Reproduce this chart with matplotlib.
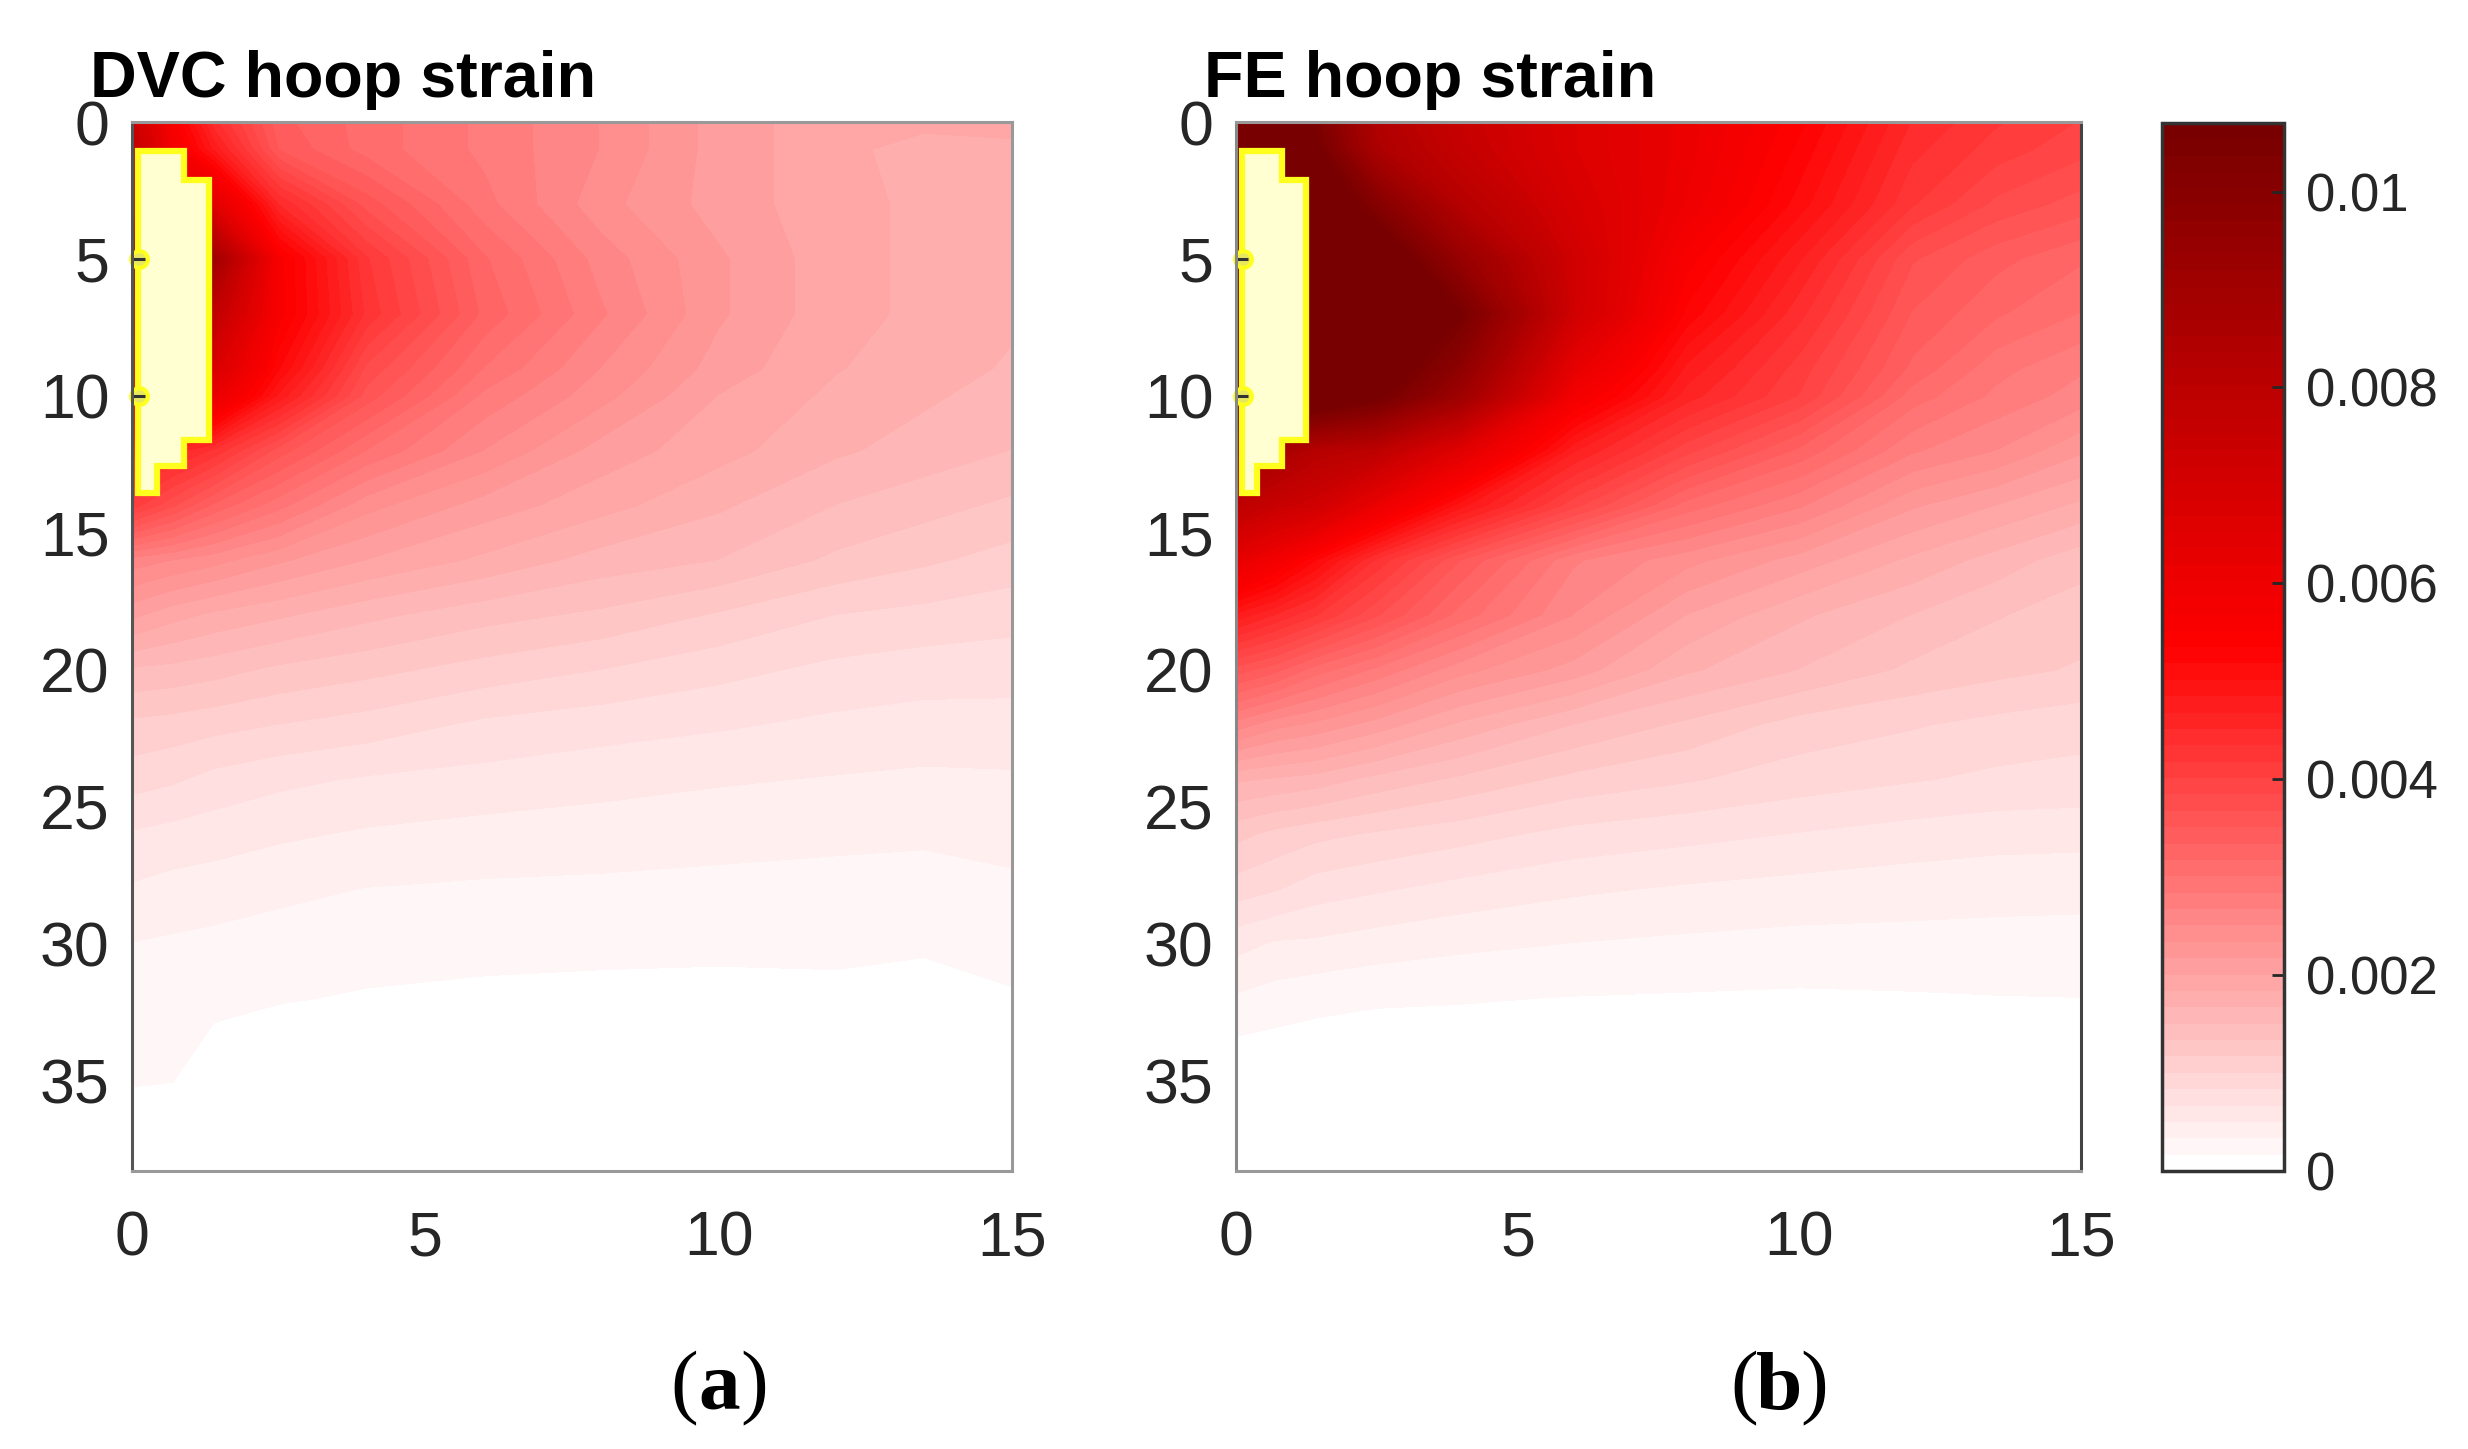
import numpy as np
import matplotlib
matplotlib.use("Agg")
import matplotlib.pyplot as plt
from matplotlib.colors import LinearSegmentedColormap

plt.rcParams["font.family"] = ["Liberation Sans", "DejaVu Sans"]

W, H = 2468, 1449
VMAX = 0.0107

# grid positions
x_grid = [0, 0.7, 1.4, 2.5, 4, 6, 8, 10, 12, 13.5, 15]
y_grid = [0, 1, 3, 5, 7, 9, 10, 12, 14, 16, 18, 20, 22, 24, 26, 28, 30, 32, 35, 38.3]

# DVC hoop strain, estimated from colours and band edges
dvc = [
    [.0075, .0056, .0044, .0034, .0031, .0028, .0025, .0021, .0019, .0019, .0019],
    [.0078, .0058, .0048, .0035, .0031, .0028, .0025, .0021, .0019, .00175, .0018],
    [.0075, .0068, .0065, .0045, .0036, .0029, .0024, .0021, .0019, .0018, .0018],
    [.0095, .0092, .0090, .0056, .0042, .0032, .0026, .0022, .0019, .0018, .00175],
    [.0082, .0082, .0078, .0056, .0043, .0033, .0027, .0022, .0019, .0018, .0017],
    [.0072, .0070, .0068, .0052, .0038, .0030, .0025, .0021, .00185, .00175, .00165],
    [.0066, .0064, .0062, .0048, .0036, .0028, .0024, .0020, .0018, .0017, .0016],
    [.0048, .0046, .0043, .0036, .0030, .0025, .0021, .0019, .0017, .0016, .0015],
    [.0041, .0037, .0033, .0029, .0024, .0021, .0019, .0017, .0015, .0014, .0013],
    [.0026, .0025, .0024, .0022, .0020, .0018, .0016, .0015, .0013, .0012, .0011],
    [.00205, .0019, .0018, .0017, .00155, .0014, .0013, .00115, .0010, .00095, .0009],
    [.00148, .00145, .0014, .0013, .00122, .0011, .0010, .00089, .00079, .00075, .00074],
    [.00113, .0011, .00106, .0010, .00093, .0008, .00074, .00069, .00063, .0006, .0006],
    [.00091, .00086, .00078, .00071, .00065, .00061, .00056, .00052, .00049, .00047, .00048],
    [.00065, .00061, .00058, .00053, .00048, .00044, .00042, .00039, .00037, .00036, .00039],
    [.00048, .00044, .00042, .00037, .00033, .00031, .0003, .00029, .00028, .00027, .0003],
    [.00033, .00031, .00029, .00027, .00024, .00022, .00021, .0002, .00021, .00019, .00023],
    [.00027, .00025, .00022, .00018, .00015, .00013, .00012, .00012, .00012, .0001, .00015],
    [.00018, .00017, .00004, 0, 0, 0, 0, 0, 0, 0, 0],
    [0, 0, 0, 0, 0, 0, 0, 0, 0, 0, 0],
]

# FE hoop strain, estimated from colours and band edges
fe = [
    [.0115, .0112, .0105, .0084, .0075, .0067, .0061, .0054, .0045, .0042, .0040],
    [.0115, .0112, .0108, .0086, .0076, .0067, .0061, .0053, .0044, .0041, .0039],
    [.0118, .0116, .0115, .0101, .0082, .0069, .0060, .0051, .0042, .0038, .0036],
    [.0120, .0120, .0120, .0115, .0094, .0072, .0056, .0047, .0037, .0034, .0032],
    [.0120, .0120, .0120, .0120, .0106, .0072, .0053, .0044, .0035, .0032, .0030],
    [.0120, .0118, .0118, .0113, .0097, .0063, .0048, .0041, .0033, .0029, .0027],
    [.0118, .0116, .0115, .0108, .0091, .0058, .0046, .0040, .0031, .0028, .0026],
    [.0095, .0088, .0082, .0079, .0065, .0047, .0039, .0033, .0027, .0025, .0022],
    [.0079, .0075, .0072, .0061, .0049, .0039, .0031, .0027, .0022, .0020, .0018],
    [.0063, .0058, .0052, .0043, .0035, .0027, .0024, .0021, .0018, .0016, .0014],
    [.0048, .0045, .0042, .0037, .0031, .0025, .0020, .0017, .0015, .00135, .00125],
    [.0036, .0034, .0031, .0028, .0024, .0021, .0017, .0015, .0013, .00122, .00115],
    [.0026, .0024, .0023, .0021, .0018, .0015, .0013, .0011, .00102, .00095, .0009],
    [.0017, .00165, .0016, .00145, .0013, .00112, .00102, .00092, .00085, .0008, .00078],
    [.00122, .00112, .00105, .00098, .0009, .00078, .00072, .00066, .0006, .00057, .00056],
    [.00092, .00085, .00075, .00069, .00061, .00053, .00048, .00044, .00041, .00039, .00038],
    [.00056, .00048, .00047, .00042, .00037, .00033, .0003, .00028, .00028, .00028, .00028],
    [.00031, .00026, .00022, .00019, .00018, .00016, .00015, .00014, .00015, .00016, .000165],
    [0, 0, 0, 0, 0, 0, 0, 0, 0, 0, 0],
    [0, 0, 0, 0, 0, 0, 0, 0, 0, 0, 0],
]

# outline of the hole at the top left, a bit narrower on the FE side
mask_y = [1.05, 1.05, 2.1, 2.1, 11.6, 11.6, 12.55, 12.55, 13.55, 13.55]
mask_x_dvc = [0.1, 0.88, 0.88, 1.32, 1.32, 0.88, 0.88, 0.42, 0.42, 0.1]
mask_x_fe = [0.1, 0.81, 0.81, 1.25, 1.25, 0.81, 0.81, 0.37, 0.37, 0.1]

x_ticks = [0, 5, 10, 15]
y_ticks = [0, 5, 10, 15, 20, 25, 30, 35]
hole_ticks = [5, 10]
bar_ticks = [0, 0.002, 0.004, 0.006, 0.008, 0.01]
bar_labels = ["0", "0.002", "0.004", "0.006", "0.008", "0.01"]

cmap = LinearSegmentedColormap.from_list(
    "hoop", [(0, "#ffffff"), (0.5, "#ff0000"), (1, "#780000")], N=64
)
levels = np.linspace(0, VMAX, 65)


def px_axes(left, right, top, bottom):
    return fig.add_axes([left / W, 1 - bottom / H, (right - left) / W, (bottom - top) / H])


def draw_panel(ax, z, mask_x, left_col, right_col):
    ax.contourf(x_grid, y_grid, z, levels=levels, cmap=cmap, extend="max",
                vmin=0, vmax=VMAX, antialiased=False)
    ax.fill(mask_x, mask_y, facecolor="#ffffd2", edgecolor="#ffff1e", linewidth=4.5,
            joinstyle="miter", zorder=3)
    ax.set_xlim(0, 15)
    ax.set_ylim(38.3, 0)
    ax.set_xticks(x_ticks)
    ax.set_yticks(y_ticks)
    ax.tick_params(length=0, labelsize=45, labelcolor="#262626")
    ax.tick_params(axis="x", pad=28)
    ax.tick_params(axis="y", pad=16)
    for s in ax.spines.values():
        s.set_color("#999999")
        s.set_linewidth(2.2)
        s.set_zorder(5)
    ax.spines["left"].set_color(left_col)
    ax.spines["right"].set_color(right_col)
    # only the ticks on the hole can be seen, the rest are under the surface
    for t in hole_ticks:
        ax.plot([0.12], [t], marker="o", ms=12, mfc="#e8e860", mec="#ffff1e", mew=3,
                zorder=3.5, clip_on=False)
        ax.plot([0, 0.22], [t, t], color="#333333", lw=2.2, zorder=4, solid_capstyle="butt")


fig = plt.figure(figsize=(W / 100, H / 100), dpi=100, facecolor="white")

ax1 = px_axes(132, 1012, 122, 1171)
ax2 = px_axes(1236, 2081, 122, 1171)
draw_panel(ax1, dvc, mask_x_dvc, "#555555", "#999999")
draw_panel(ax2, fe, mask_x_fe, "#888888", "#444444")

fig.text(90 / W, 1 - 97 / H, "DVC hoop strain", fontsize=46.5, fontweight="bold", color="black")
fig.text(1204 / W, 1 - 97 / H, "FE hoop strain", fontsize=46.5, fontweight="bold", color="black")

# colour bar
cax = px_axes(2162, 2284, 123, 1171)
sm = plt.cm.ScalarMappable(norm=plt.Normalize(0, VMAX), cmap=cmap)
cb = fig.colorbar(sm, cax=cax)
cb.set_ticks(bar_ticks)
cb.set_ticklabels(bar_labels)
cb.ax.tick_params(direction="in", length=9, width=2, color="#262626", labelsize=38,
                  labelcolor="#262626", pad=16)
cb.outline.set_edgecolor("#333333")
cb.outline.set_linewidth(2.5)

# panel letters
for cx, letter in [(719, "a"), (1779, "b")]:
    fig.text((cx - 35) / W, 1 - 1389 / H, "(", family="Liberation Serif", fontsize=60,
             ha="center", va="center", color="black")
    fig.text(cx / W, 1 - 1389 / H, letter, family="Liberation Serif", fontsize=60,
             fontweight="bold", ha="center", va="center", color="black")
    fig.text((cx + 35) / W, 1 - 1389 / H, ")", family="Liberation Serif", fontsize=60,
             ha="center", va="center", color="black")

fig.savefig("out.png", dpi=100)
